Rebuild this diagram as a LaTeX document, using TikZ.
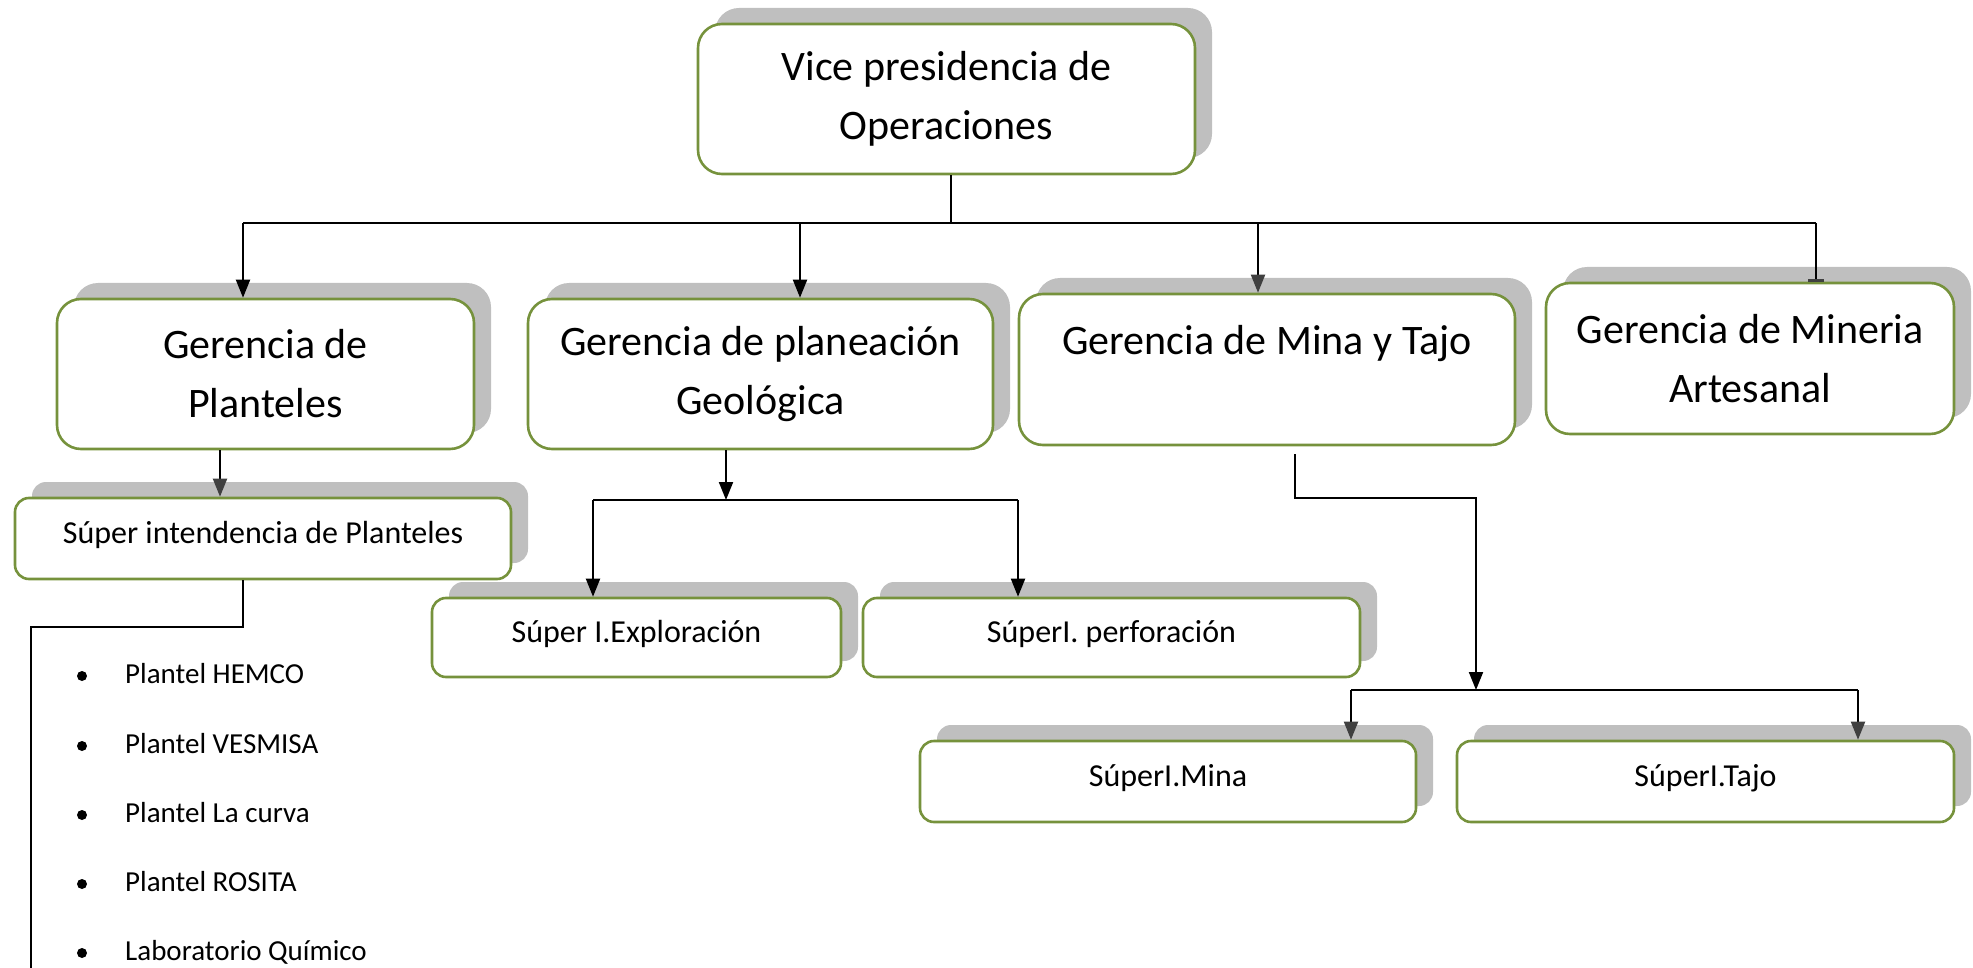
\documentclass[tikz,border=0pt]{standalone}
\usepackage{fontspec}
\setmainfont{Carlito}
\usetikzlibrary{arrows.meta,shadows}
\definecolor{boxgreen}{HTML}{76923C}
\definecolor{shadowgray}{HTML}{BFBFBF}
\definecolor{tipgray}{HTML}{404040}
\begin{document}
\begin{tikzpicture}[x=1pt,y=-1pt,
  boxbase/.style={draw=boxgreen, line width=2.6pt, fill=white, inner sep=0pt, align=center,
    drop shadow={shadow xshift=17pt, shadow yshift=16pt, fill=shadowgray, opacity=1}},
  bigbox/.style={boxbase, rounded corners=24pt, font=\fontsize{42}{59}\selectfont},
  smallbox/.style={boxbase, rounded corners=14pt, font=\fontsize{32}{40}\selectfont,
    text height=24pt, text depth=15pt},
  conn/.style={line width=2pt, black},
  arr/.style={conn, -{Triangle[width=14pt,length=18pt]}},
  arrg/.style={conn, -{Triangle[width=14pt,length=18pt,color=tipgray]}},
  tee/.style={conn, -{Bar[width=16pt,line width=3pt,color=tipgray]}},
  item/.style={font=\fontsize{29}{35}\selectfont, inner sep=0pt},
  bullet/.style={fill=black}]
\useasboundingbox (0,0) rectangle (1973,968);

% boxes
\node[bigbox, minimum width=497pt, minimum height=150pt] (vp) at (946.5,99) {Vice presidencia de\\Operaciones};
\node[bigbox, minimum width=417pt, minimum height=150pt] (g1) at (265.5,374) {Gerencia de\\Planteles};
\node[bigbox, minimum width=465pt, minimum height=150pt] (g2) at (760.5,374) {Gerencia de planeación\\Geológica};
\node[bigbox, minimum width=496pt, minimum height=151pt] (g3) at (1267,369.5) {Gerencia de Mina y Tajo\\\mbox{}};
\node[bigbox, minimum width=408pt, minimum height=151pt] (g4) at (1750,358.5) {Gerencia de Mineria\\Artesanal};

\node[smallbox, minimum width=496pt, minimum height=81pt] (s1) at (263,538.5) {Súper intendencia de Planteles};
\node[smallbox, minimum width=409pt, minimum height=79pt] (e1) at (636.5,637.5) {Súper I.Exploración};
\node[smallbox, minimum width=497pt, minimum height=79pt] (e2) at (1111.5,637.5) {SúperI. perforación};
\node[smallbox, minimum width=496pt, minimum height=81pt] (m1) at (1168,781.5) {SúperI.Mina};
\node[smallbox, minimum width=497pt, minimum height=81pt] (m2) at (1705.5,781.5) {SúperI.Tajo};

% top bus
\coordinate (bvp) at (951,223);
\coordinate (bL) at (243,223);
\coordinate (b2) at (800,223);
\coordinate (b3) at (1258,223);
\coordinate (bR) at (1816,223);
\draw[conn] (vp.south -| bvp) -- (bvp);
\draw[conn] (bL) -- (bR);
\draw[arr] (bL) -- (bL |- g1.north);
\draw[arr] (b2) -- (b2 |- g2.north);
\draw[arrg] (b3) -- (b3 |- g3.north);
\draw[tee] (bR) -- (bR |- g4.north);

% Planteles branch
\coordinate (a1) at (220,470);
\draw[arrg] (g1.south -| a1) -- (s1.north -| a1);
\coordinate (c1) at (243,627);
\coordinate (c2) at (31,627);
\coordinate (c3) at (31,975);
\draw[conn] (s1.south -| c1) -- (c1) -- (c2) -- (c3);

% Geologica branch
\coordinate (d0) at (726,500);
\coordinate (dL) at (593,500);
\coordinate (dR) at (1018,500);
\draw[arr] (g2.south -| d0) -- (d0);
\draw[conn] (dL) -- (dR);
\draw[arr] (dL) -- (dL |- e1.north);
\draw[arr] (dR) -- (dR |- e2.north);

% Mina y Tajo branch
\coordinate (f0) at (1295,454);
\coordinate (f1) at (1295,498);
\coordinate (f2) at (1476,498);
\coordinate (f3) at (1476,690);
\draw[arr] (f0) -- (f1) -- (f2) -- (f3);
\coordinate (hL) at (1351,690);
\coordinate (hR) at (1858,690);
\draw[conn] (hL) -- (hR);
\draw[arrg] (hL) -- (hL |- m1.north);
\draw[arrg] (hR) -- (hR |- m2.north);

% bullet list
\node[item, anchor=base west] (l1) at (125,683) {Plantel HEMCO};
\node[item, anchor=base west] (l2) at (125,753) {Plantel VESMISA};
\node[item, anchor=base west] (l3) at (125,822) {Plantel La curva};
\node[item, anchor=base west] (l4) at (125,891) {Plantel ROSITA};
\node[item, anchor=base west] (l5) at (125,960) {Laboratorio Químico};
\foreach \yy in {676,746,815,884,953} \fill[bullet] (82,\yy) circle (5pt);
\end{tikzpicture}
\end{document}
